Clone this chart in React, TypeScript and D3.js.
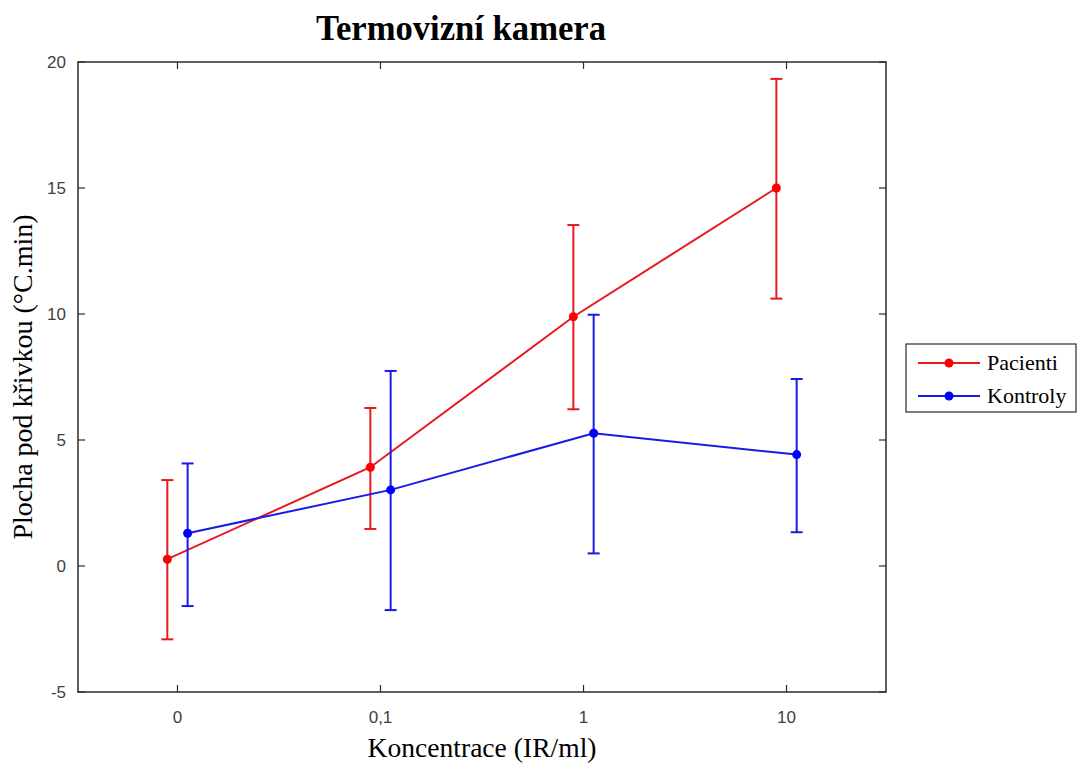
import React from "react";
import * as d3 from "d3";

const categories = ["0", "0,1", "1", "10"];
const seriesNames = ["Pacienti", "Kontroly"];
const pacientiMean = [0.27, 3.92, 9.89, 15.0];
const pacientiLow = [-2.91, 1.47, 6.22, 10.61];
const pacientiHigh = [3.41, 6.27, 13.53, 19.33];
const kontrolyMean = [1.3, 3.02, 5.27, 4.42];
const kontrolyLow = [-1.59, -1.75, 0.5, 1.34];
const kontrolyHigh = [4.07, 7.74, 9.97, 7.42];
const yTicks = [-5, 0, 5, 10, 15, 20];

const W = 1080;
const H = 769;
const m = { left: 78, right: 886, top: 62, bottom: 692 };

export default function App() {
  const x = d3.scaleLinear().domain([-0.49, 3.49]).range([m.left, m.right]);
  const y = d3.scaleLinear().domain([-5, 20]).range([m.bottom, m.top]);

  const series = [
    { name: seriesNames[0], mean: pacientiMean, lo: pacientiLow, hi: pacientiHigh, off: -0.05, line: "#e8191e", mark: "#ff0000" },
    { name: seriesNames[1], mean: kontrolyMean, lo: kontrolyLow, hi: kontrolyHigh, off: 0.05, line: "#1a1ae6", mark: "#0000ff" },
  ];

  const lineGen = d3
    .line<[number, number]>()
    .x((d) => d[0])
    .y((d) => d[1]);

  const tickLen = 7;
  const axisColor = "#2b2b2b";
  const cap = 6;

  return (
    <svg width={W} height={H} style={{ position: "absolute", left: 0, top: 0, background: "#fff" }}>
      <rect x={0} y={0} width={W} height={H} fill="#fff" />
      <text
        x={461}
        y={40}
        textAnchor="middle"
        fontFamily="'Liberation Serif', 'Times New Roman', serif"
        fontWeight="bold"
        fontSize={35}
        textLength={290}
        lengthAdjust="spacingAndGlyphs"
        fill="#000"
      >
        Termovizní kamera
      </text>

      <rect x={m.left} y={m.top} width={m.right - m.left} height={m.bottom - m.top} fill="none" stroke={axisColor} strokeWidth={1.5} />

      {yTicks.map((t) => (
        <g key={"y" + t}>
          <line x1={m.left} x2={m.left + tickLen} y1={y(t)} y2={y(t)} stroke={axisColor} strokeWidth={1.2} />
          <line x1={m.right} x2={m.right - tickLen} y1={y(t)} y2={y(t)} stroke={axisColor} strokeWidth={1.2} />
          <text x={66} y={y(t)} dy="0.35em" textAnchor="end" fontFamily="'Liberation Sans', Arial, sans-serif" fontSize={17} fill="#404040">
            {t}
          </text>
        </g>
      ))}

      {categories.map((c, i) => (
        <g key={"x" + c}>
          <line x1={x(i)} x2={x(i)} y1={m.bottom} y2={m.bottom - tickLen} stroke={axisColor} strokeWidth={1.2} />
          <line x1={x(i)} x2={x(i)} y1={m.top} y2={m.top + tickLen} stroke={axisColor} strokeWidth={1.2} />
          <text x={x(i)} y={717} dy="0.35em" textAnchor="middle" fontFamily="'Liberation Sans', Arial, sans-serif" fontSize={17} fill="#404040">
            {c}
          </text>
        </g>
      ))}

      {series.map((s) => {
        const pts: [number, number][] = s.mean.map((v, i) => [x(i + s.off), y(v)]);
        return (
          <g key={s.name}>
            <path d={lineGen(pts) || ""} fill="none" stroke={s.line} strokeWidth={2} />
            {s.mean.map((v, i) => {
              const cx = x(i + s.off);
              return (
                <g key={i}>
                  <line x1={cx} x2={cx} y1={y(s.lo[i])} y2={y(s.hi[i])} stroke={s.line} strokeWidth={2} />
                  <line x1={cx - cap} x2={cx + cap} y1={y(s.lo[i])} y2={y(s.lo[i])} stroke={s.line} strokeWidth={2} />
                  <line x1={cx - cap} x2={cx + cap} y1={y(s.hi[i])} y2={y(s.hi[i])} stroke={s.line} strokeWidth={2} />
                  <circle cx={cx} cy={y(v)} r={4.5} fill={s.mark} />
                </g>
              );
            })}
          </g>
        );
      })}

      <rect x={906} y={344} width={170} height={68} fill="#fff" stroke={axisColor} strokeWidth={1.2} />
      {series.map((s, i) => {
        const ly = 363 + i * 33;
        return (
          <g key={"lg" + s.name}>
            <line x1={918} x2={980} y1={ly} y2={ly} stroke={s.line} strokeWidth={2} />
            <circle cx={949} cy={ly} r={4.5} fill={s.mark} />
            <text x={987} y={ly} dy="0.33em" fontFamily="'Liberation Serif', 'Times New Roman', serif" fontSize={22} fill="#000">
              {s.name}
            </text>
          </g>
        );
      })}

      <text
        transform="translate(32,377) rotate(-90)"
        textAnchor="middle"
        fontFamily="'Liberation Serif', 'Times New Roman', serif"
        fontSize={27}
        textLength={325}
        lengthAdjust="spacingAndGlyphs"
        fill="#000"
      >
        Plocha pod křivkou (°C.min)
      </text>
      <text
        x={482}
        y={757}
        textAnchor="middle"
        fontFamily="'Liberation Serif', 'Times New Roman', serif"
        fontSize={27}
        textLength={229}
        lengthAdjust="spacingAndGlyphs"
        fill="#000"
      >
        Koncentrace (IR/ml)
      </text>
    </svg>
  );
}
